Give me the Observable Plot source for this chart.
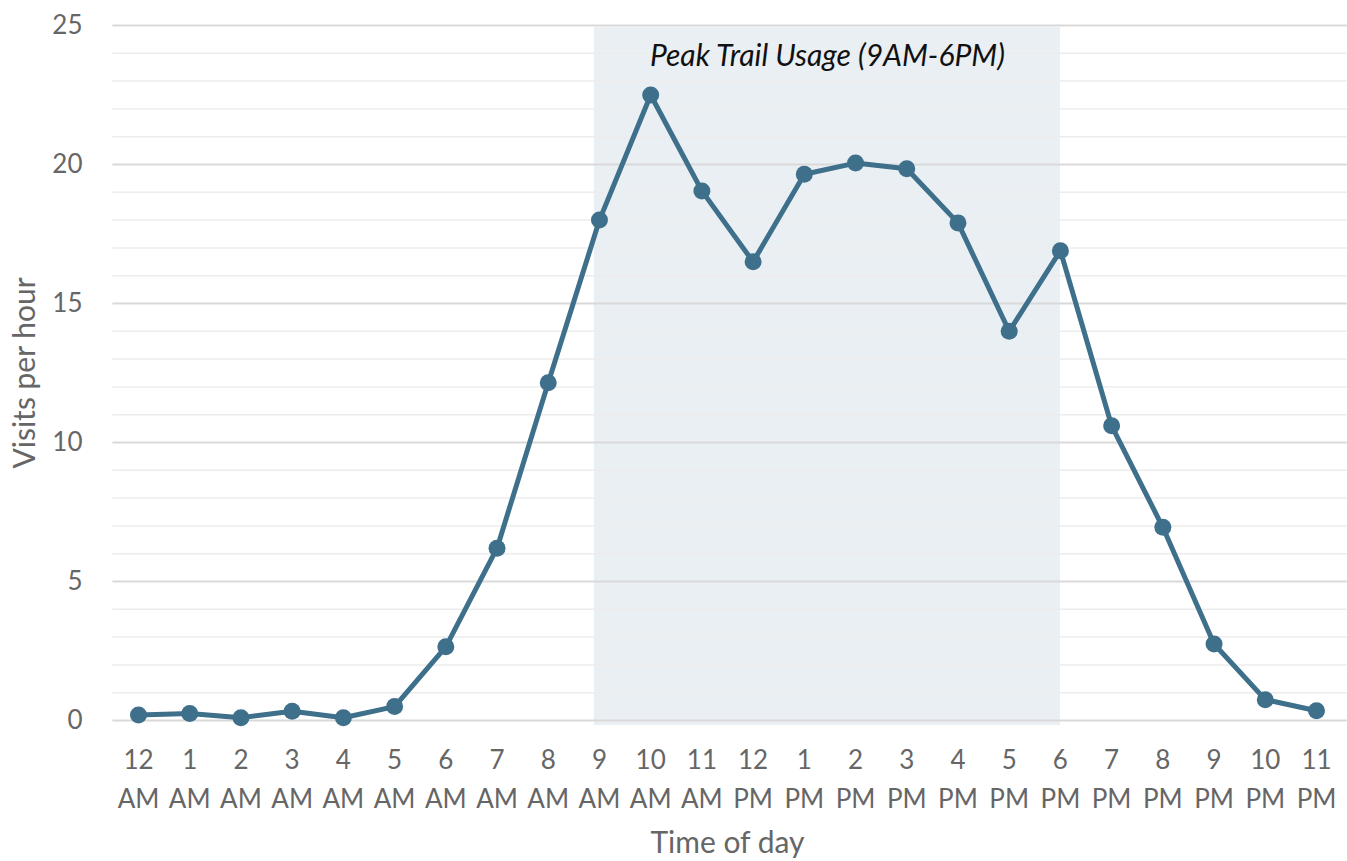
<!DOCTYPE html>
<html>
<head>
<meta charset="utf-8">
<script src="https://cdn.jsdelivr.net/npm/d3@7"></script>
<script src="https://cdn.jsdelivr.net/npm/@observablehq/plot@0.6"></script>
<style>
  html, body { margin: 0; padding: 0; background: #fff; }
  #chart svg { display: block; }
</style>
</head>
<body>
<div id="chart"></div>
<script>
// Data
const hours = d3.range(0, 24);
const hourLabels = ["12\nAM","1\nAM","2\nAM","3\nAM","4\nAM","5\nAM","6\nAM","7\nAM","8\nAM","9\nAM","10\nAM","11\nAM",
                    "12\nPM","1\nPM","2\nPM","3\nPM","4\nPM","5\nPM","6\nPM","7\nPM","8\nPM","9\nPM","10\nPM","11\nPM"];
const visits = [0.2, 0.25, 0.1, 0.33, 0.1, 0.5, 2.65, 6.2, 12.15, 18.0, 22.5, 19.05,
                16.5, 19.65, 20.05, 19.85, 17.9, 14.0, 16.9, 10.6, 6.95, 2.75, 0.75, 0.35];
const majorTicks = [0, 5, 10, 15, 20, 25];
const minorTicks = d3.range(0, 26).filter(v => v % 5 !== 0);
const peakBand = [{start: 8.9, end: 18.0, label: "Peak Trail Usage (9AM-6PM)"}];

const data = hours.map((h, i) => ({hour: h, visits: visits[i]}));

const chart = Plot.plot({
  width: 1347,
  height: 861,
  marginLeft: 138,
  marginRight: 31,
  marginTop: 25,
  marginBottom: 141,
  style: {fontFamily: "Lato, 'Open Sans', sans-serif", background: "#fff"},
  x: {domain: [0, 23]},
  y: {domain: [0, 25]},
  marks: [
    Plot.rect(peakBand, {x1: "start", x2: "end", y1: -0.18, y2: 24.92, fill: "#eaeff4"}),
    Plot.ruleY(minorTicks, {x1: -0.5, x2: 23.6, stroke: "#ececec", strokeWidth: 1.5, clip: false}),
    Plot.ruleY(majorTicks, {x1: -0.5, x2: 23.6, stroke: "#d9d9d9", strokeWidth: 2, clip: false}),
    Plot.axisY({
      ticks: majorTicks,
      tickSize: 0,
      tickPadding: 56,
      fontSize: 26,
      color: "#666",
      label: "Visits per hour",
      labelAnchor: "center",
      labelArrow: "none",
      labelOffset: 125
    }),
    Plot.axisX({
      ticks: hours,
      tickFormat: d => hourLabels[d],
      tickSize: 0,
      tickPadding: 20,
      fontSize: 26,
      lineHeight: 1.52,
      color: "#666",
      label: "Time of day",
      labelAnchor: "center",
      labelArrow: "none",
      labelOffset: 132
    }),
    Plot.text(peakBand, {
      x: d => (d.start + d.end) / 2,
      y: 23.9,
      text: "label",
      fontSize: 30,
      fontStyle: "italic",
      fill: "#111",
      lineAnchor: "middle"
    }),
    Plot.line(data, {x: "hour", y: "visits", stroke: "#3e6f8b", strokeWidth: 5, curve: "linear"}),
    Plot.dot(data, {x: "hour", y: "visits", r: 8.5, fill: "#3e6f8b"})
  ]
});

document.getElementById("chart").appendChild(chart);
chart.querySelectorAll("g[aria-label='x-axis label'] text, g[aria-label='y-axis label'] text").forEach(t => {
  t.setAttribute("font-size", 30);
});
</script>
</body>
</html>
